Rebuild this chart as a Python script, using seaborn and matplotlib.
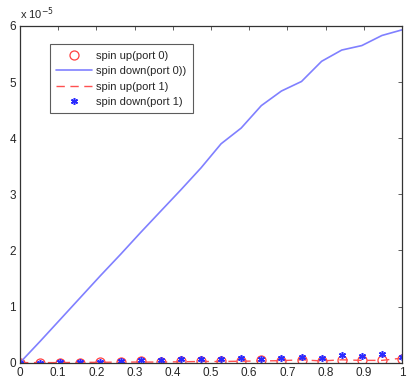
import numpy as np
import pandas as pd
import matplotlib
matplotlib.use("Agg")
import matplotlib.pyplot as plt
import seaborn as sns

sns.set_style("white")
plt.rcParams['font.family'] = ['Liberation Sans', 'DejaVu Sans']

# x positions (20 samples from 0 to 1)
x_vals = [0.0, 0.0526, 0.1053, 0.1579, 0.2105, 0.2632, 0.3158, 0.3684, 0.4211, 0.4737,
          0.5263, 0.5789, 0.6316, 0.6842, 0.7368, 0.7895, 0.8421, 0.8947, 0.9474, 1.0]
# values in units of 1e-5
spin_up_p0 = [0.0, 0.0, 0.0, 0.0, 0.005, 0.01, 0.02, 0.01, 0.02, 0.02,
              0.03, 0.03, 0.04, 0.03, 0.05, 0.03, 0.05, 0.05, 0.04, 0.06]
spin_down_p0 = [0.0, 0.38, 0.77, 1.16, 1.55, 1.93, 2.32, 2.70, 3.08, 3.47,
                3.90, 4.18, 4.58, 4.84, 5.01, 5.37, 5.57, 5.65, 5.83, 5.93]
spin_up_p1 = [0.0, 0.0, 0.0, 0.005, 0.005, 0.01, 0.01, 0.01, 0.015, 0.02,
              0.02, 0.025, 0.03, 0.035, 0.05, 0.03, 0.05, 0.04, 0.04, 0.08]
spin_down_p1 = [0.0, 0.0, 0.01, 0.01, 0.01, 0.036, 0.04, 0.04, 0.06, 0.06,
                0.06, 0.077, 0.06, 0.077, 0.095, 0.09, 0.137, 0.12, 0.155, 0.10]
labels = ["spin up(port 0)", "spin down(port 0))", "spin up(port 1)", "spin down(port 1)"]
x_ticks = [0, 0.1, 0.2, 0.3, 0.4, 0.5, 0.6, 0.7, 0.8, 0.9, 1]
y_ticks = [0, 1, 2, 3, 4, 5, 6]

df = pd.DataFrame({"x": x_vals, "a": spin_up_p0, "b": spin_down_p0,
                   "c": spin_up_p1, "d": spin_down_p1})

fig = plt.figure(figsize=(4.09, 3.87), dpi=100)
ax = fig.add_axes([0.049, 0.063, 0.934, 0.870])

sns.lineplot(data=df, x="x", y="a", ax=ax, linestyle="none", marker="o",
             markersize=6.5, markerfacecolor="none", markeredgecolor="#ff4040",
             markeredgewidth=0.9, color="#ff4040", label=labels[0])
sns.lineplot(data=df, x="x", y="b", ax=ax, color="#8080ff", linewidth=1.2,
             label=labels[1])
sns.lineplot(data=df, x="x", y="c", ax=ax, color="#ff5050", linewidth=1.0,
             linestyle=(0, (6, 4)), label=labels[2])
sns.lineplot(data=df, x="x", y="d", ax=ax, linestyle="none", marker=(6, 2, 0),
             markersize=5, color="#2a2aff", markeredgecolor="#2a2aff",
             markeredgewidth=1.1, label=labels[3])

ax.set_xlim(0, 1)
ax.set_ylim(0, 6)
ax.set_xticks(x_ticks)
ax.set_xticklabels([f"{t:g}" for t in x_ticks])
ax.set_yticks(y_ticks)
ax.set_xlabel("")
ax.set_ylabel("")
ax.tick_params(direction="in", top=True, right=True, length=3, width=0.6,
               labelsize=8.5, color="#444444", pad=3)
for s in ax.spines.values():
    s.set_visible(True)
    s.set_color("#333333")
    s.set_linewidth(0.9)

ax.text(0.0, 1.012, r"x 10$^{-5}$", transform=ax.transAxes, fontsize=8,
        ha="left", va="bottom")

leg = ax.legend(loc="upper left", bbox_to_anchor=(0.079, 0.945), fontsize=8,
                frameon=True, fancybox=False, edgecolor="#333333",
                borderpad=0.55, handlelength=3.2, labelspacing=0.5,
                handletextpad=0.4, borderaxespad=0.0)
leg.get_frame().set_linewidth(0.8)

fig.savefig("out.png", dpi=100)
